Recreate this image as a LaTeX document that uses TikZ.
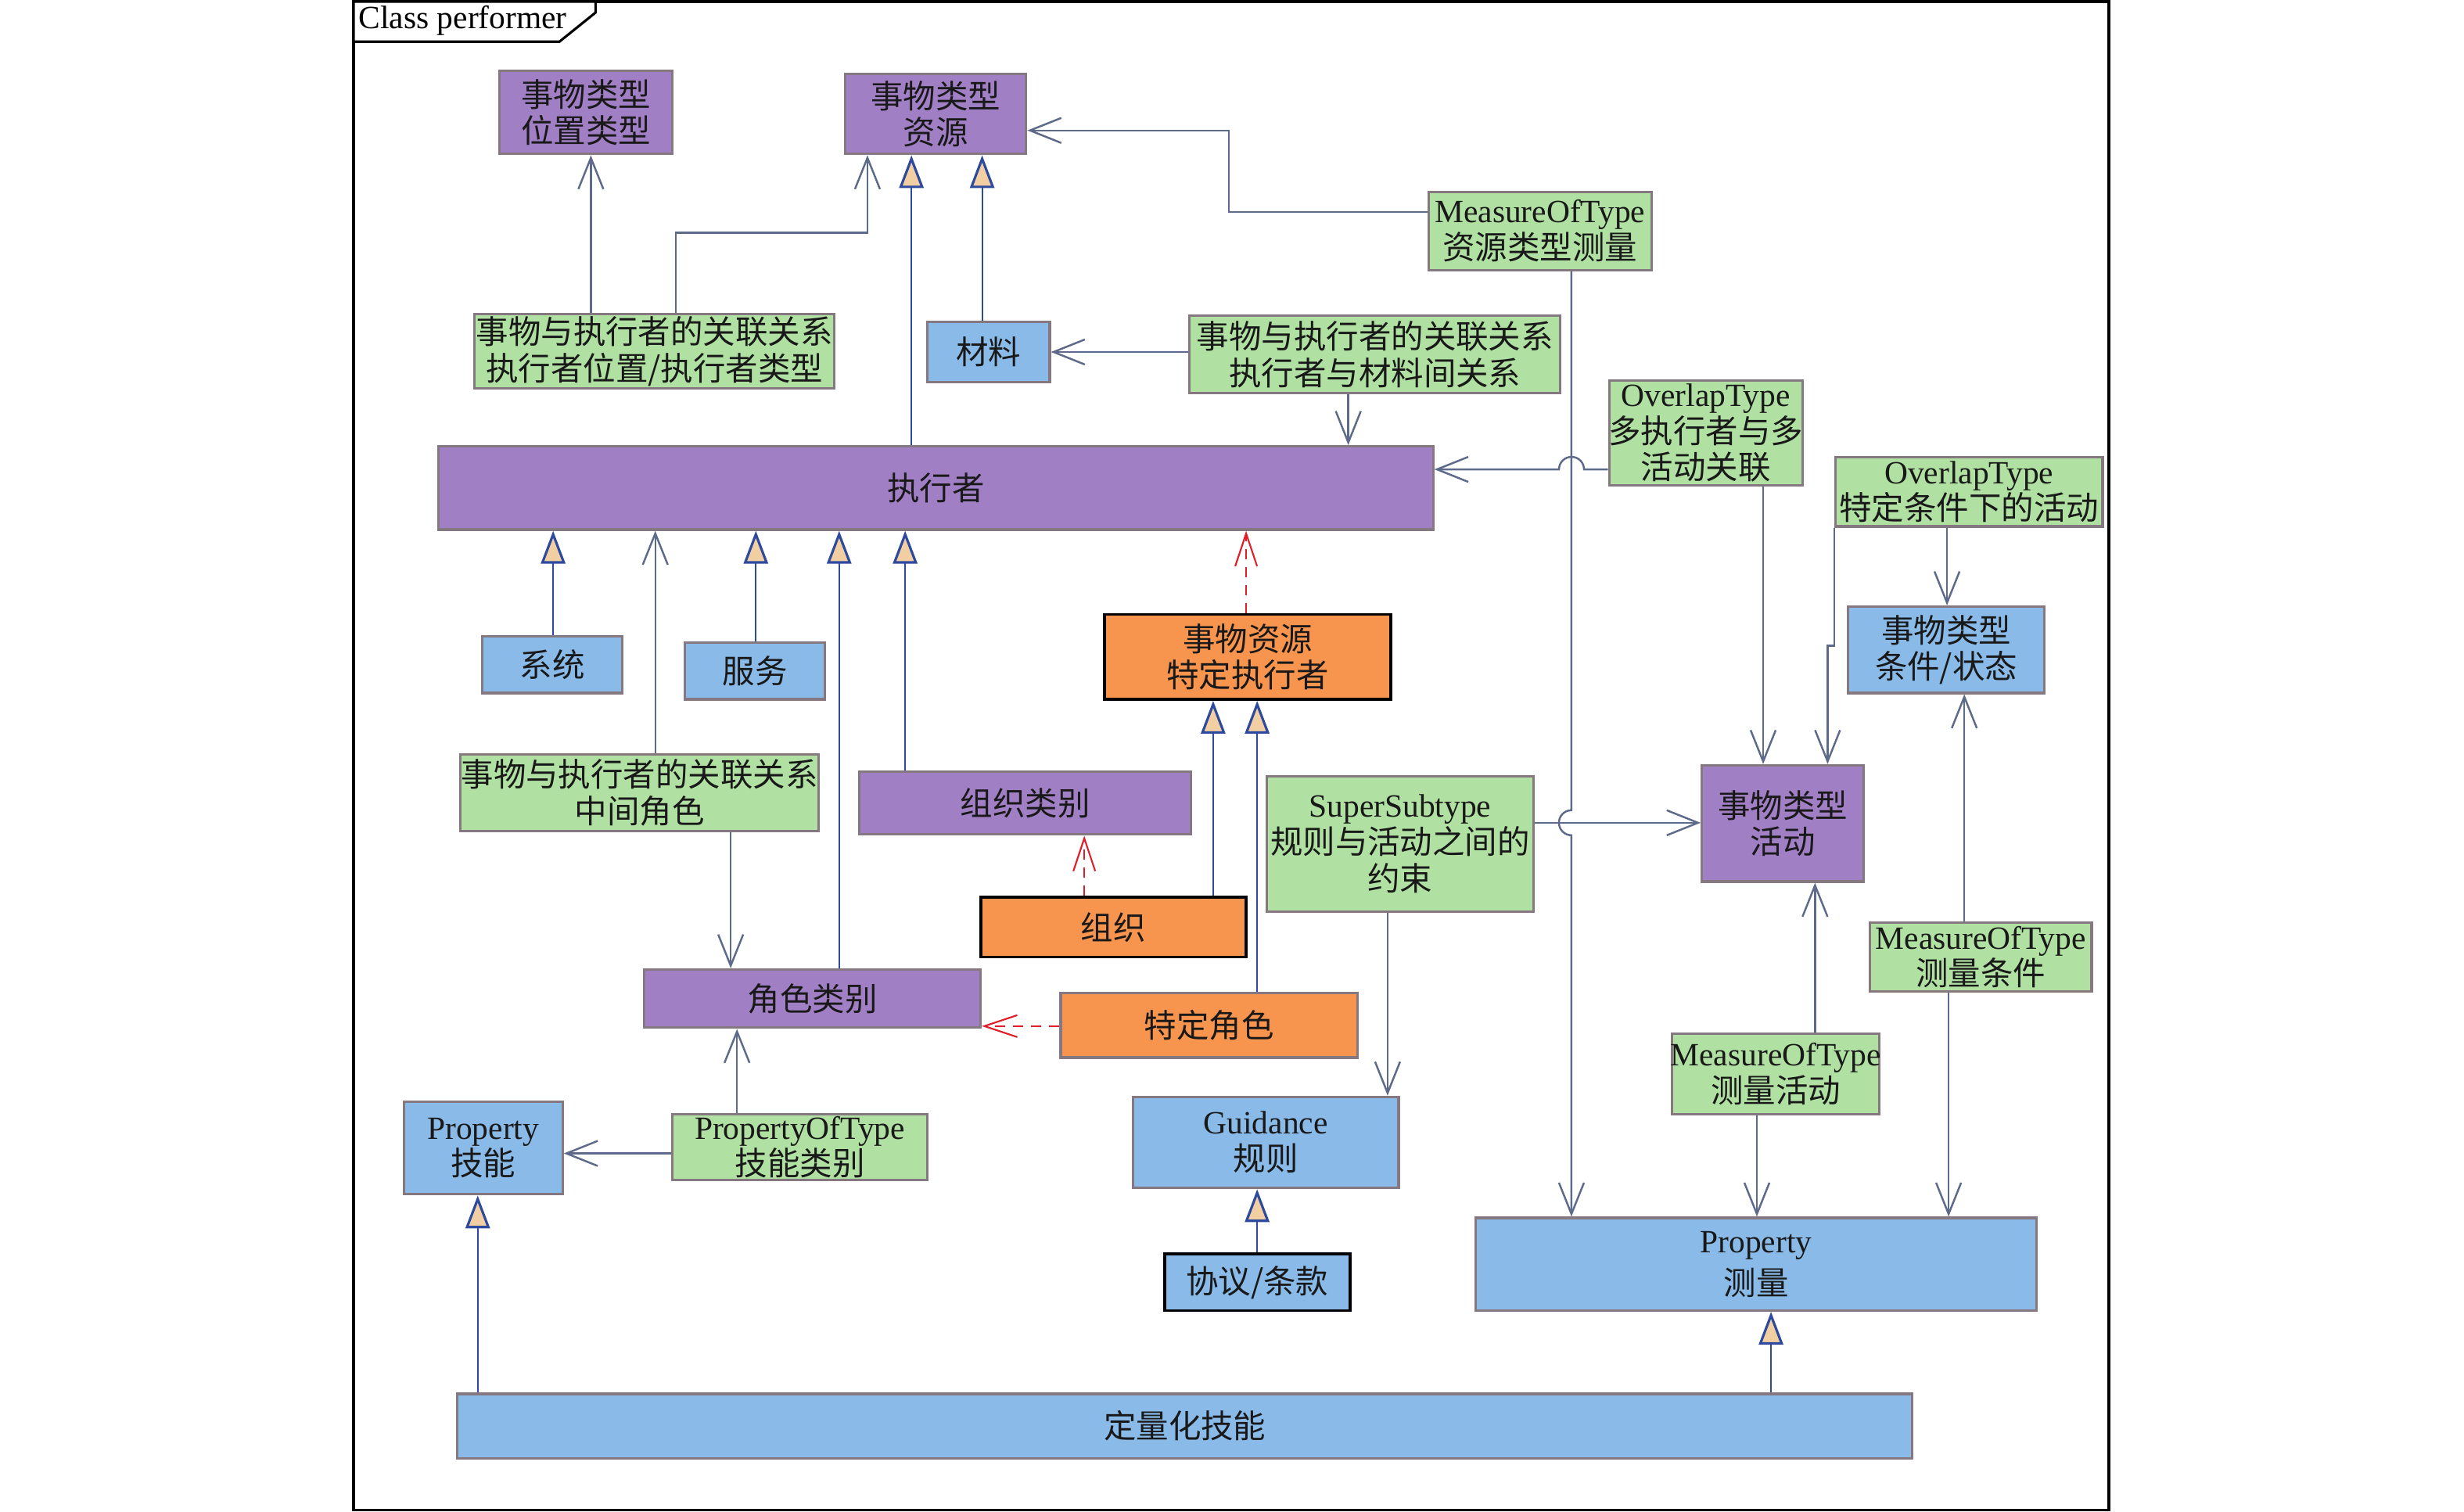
\documentclass[tikz,border=0pt]{standalone}
\usepackage{fontspec}
\setmainfont{Liberation Serif}
\newfontfamily\cjk{Noto Sans CJK SC}
\usepackage{tikz}
\usetikzlibrary{positioning,arrows.meta}

\definecolor{clsviolet}{RGB}{161,127,196}
\definecolor{relgreen}{RGB}{176,224,162}
\definecolor{propblue}{RGB}{137,186,232}
\definecolor{instorange}{RGB}{247,148,78}
\definecolor{boxgray}{RGB}{133,120,128}
\definecolor{assocgray}{RGB}{94,106,138}
\definecolor{genblue}{RGB}{46,74,158}
\definecolor{gentan}{RGB}{242,207,163}
\definecolor{depred}{RGB}{225,30,40}

\newcommand{\en}[1]{{\rmfamily #1}}

\begin{document}
\begin{tikzpicture}[x=0.2009mm, y=-0.2009mm,
    bb/.style={%
      rectangle, draw=boxgray, line width=0.9pt, inner sep=0pt,
      align=center, text=black!90,
      font=\cjk\fontsize{11.8}{13.3}\selectfont
    },
    cell/.style n args={4}{%
      at={({(#1+#3)/2},{(#2+#4)/2})},
      minimum width={(#3-#1)*0.2009mm}, minimum height={(#4-#2)*0.2009mm}
    },
    vt/.style={bb, fill=clsviolet},
    gr/.style={bb, fill=relgreen},
    bl/.style={bb, fill=propblue},
    og/.style={bb, fill=instorange},
    blk/.style={draw=black, line width=1.1pt},
    assoc/.style={draw=assocgray, line width=0.7pt,
      -{Straight Barb[length=4mm, width=3.2mm]}},
    gen/.style={draw=genblue, line width=0.6pt,
      -{Triangle[length=4.2mm, width=3.1mm, fill=gentan, line width=0.9pt]}},
    dep/.style={draw=depred, line width=0.6pt, dash pattern=on 1.3mm off 1mm,
      -{Straight Barb[length=4.2mm, width=2.8mm]}}
]
    % frame
    \path[use as bounding box, fill=white] (0,0) rectangle (1568,962);
    \draw[line width=0.9pt] (225,1) rectangle (1342,961);
    \draw[line width=0.9pt, fill=white] (225,1) -- (379,1) -- (379,8)
      -- (356,26.5) -- (225,26.5) -- cycle;
    \node[anchor=west, inner sep=0pt, font=\fontsize{11.8}{13}\selectfont]
      (title) at (228,13) {Class performer};

    % classes
    \node[vt, cell={318}{45}{428}{98}]    (loc)     {事物类型\\位置类型};
    \node[vt, cell={538}{47}{653}{98}]    (res)     {事物类型\\资源};
    \node[vt, cell={279}{284}{912}{337}]  (perf)    {执行者};
    \node[vt, cell={547}{491}{758}{531}]  (orgtype) {组织类别};
    \node[vt, cell={1083}{487}{1186}{561}] (act)    {事物类型\\活动};
    \node[vt, cell={410}{617}{624}{654}]  (role)    {角色类别};

    % relations
    \node[gr, cell={909}{122}{1051}{172}] (resmeas) {\en{MeasureOfType}\\资源类型测量};
    \node[gr, cell={302}{200}{531}{247}]  (locrel)  {事物与执行者的关联关系\\执行者位置/执行者类型};
    \node[gr, cell={757}{201}{993}{250}]  (matrel)  {事物与执行者的关联关系\\执行者与材料间关系};
    \node[gr, cell={1024}{242}{1147}{309}] (multi)  {\en{OverlapType}\\\makebox[0pt]{多执行者与多}\\活动关联};
    \node[gr, cell={1168}{291}{1338}{335}] (cond)   {\en{OverlapType}\\特定条件下的活动};
    \node[gr, cell={293}{480}{521}{529}]  (midrel)  {事物与执行者的关联关系\\中间角色};
    \node[gr, cell={806}{494}{976}{580}]  (rule)    {\en{SuperSubtype}\\规则与活动之间的\\约束};
    \node[gr, cell={1190}{587}{1331}{631}] (condmeas) {\en{MeasureOfType}\\测量条件};
    \node[gr, cell={1064}{658}{1196}{709}] (actmeas) {\makebox[0pt]{\en{MeasureOfType}}\\测量活动};
    \node[gr, cell={428}{709}{590}{751}]  (skilltype) {\en{PropertyOfType}\\技能类别};

    % properties, resources
    \node[bl, cell={590}{205}{668}{243}]  (mat)     {材料};
    \node[bl, cell={307}{405}{396}{441}]  (sys)     {系统};
    \node[bl, cell={436}{409}{525}{445}]  (svc)     {服务};
    \node[bl, cell={1176}{386}{1301}{441}] (state)  {事物类型\\条件/状态};
    \node[bl, cell={257}{701}{358}{760}]  (skill)   {\en{Property}\\技能};
    \node[bl, cell={721}{698}{890}{756}]  (guide)   {\en{Guidance}\\规则};
    \node[bl, blk, cell={741}{798}{859}{834}] (treaty) {协议/条款};
    \node[bl, cell={939}{775}{1296}{834}] (meas)    {\en{Property}\\[2pt]测量};
    \node[bl, cell={291}{887}{1217}{928}] (qskill)  {定量化技能};

    % individuals
    \node[og, blk, cell={703}{391}{885}{445}] (spec) {事物资源\\特定执行者};
    \node[og, blk, cell={624}{571}{793}{609}] (org)  {组织};
    \node[og, cell={675}{632}{864}{673}]      (prole) {特定角色};

    % associations
    \draw[assoc] (376,0 |- locrel.north) -- (376,0 |- loc.south);
    \draw[assoc] (430,0 |- locrel.north) |- (552,148) -- (552,0 |- res.south);
    \draw[assoc] (resmeas.west |- 0,135) -| (782,83) -- (res.east |- 0,83);
    \draw[assoc] (matrel.west |- 0,224) -- (mat.east |- 0,224);
    \draw[assoc] (858,0 |- matrel.south) -- (858,0 |- perf.north);
    \draw[assoc] (multi.west |- 0,298.7) -- (1008,298.7)
      arc[start angle=0, end angle=180, radius=1.6mm] -- (perf.east |- 0,298.7);
    \draw[assoc] (1000,0 |- resmeas.south) -- (1000,515.6)
      arc[start angle=90, end angle=270, radius=1.6mm] -- (1000,0 |- meas.north);
    \draw[assoc] (1122,0 |- multi.south) -- (1122,0 |- act.north);
    \draw[assoc] (cond.south west) |- (1163,411) -- (1163,0 |- act.north);
    \draw[assoc] (1239,0 |- cond.south) -- (1239,0 |- state.north);
    \draw[assoc] (1250,0 |- condmeas.north) -- (1250,0 |- state.south);
    \draw[assoc] (1240,0 |- condmeas.south) -- (1240,0 |- meas.north);
    \draw[assoc] (1155,0 |- actmeas.north) -- (1155,0 |- act.south);
    \draw[assoc] (1118,0 |- actmeas.south) -- (1118,0 |- meas.north);
    \draw[assoc] (rule.east |- 0,523.6) -- (act.west |- 0,523.6);
    \draw[assoc] (883,0 |- rule.south) -- (883,0 |- guide.north);
    \draw[assoc] (skilltype.west |- 0,734) -- (skill.east |- 0,734);
    \draw[assoc] (469,0 |- skilltype.north) -- (469,0 |- role.south);
    \draw[assoc] (417,0 |- midrel.north) -- (417,0 |- perf.south);
    \draw[assoc] (465,0 |- midrel.south) -- (465,0 |- role.north);

    % generalisations
    \path (580,0 |- perf.north)   edge[gen] (580,0 |- res.south)
          (625,0 |- mat.north)    edge[gen] (625,0 |- res.south)
          (352,0 |- sys.north)    edge[gen] (352,0 |- perf.south)
          (481,0 |- svc.north)    edge[gen] (481,0 |- perf.south)
          (534,0 |- role.north)   edge[gen] (534,0 |- perf.south)
          (576,0 |- orgtype.north) edge[gen] (576,0 |- perf.south)
          (772,0 |- org.north)    edge[gen] (772,0 |- spec.south)
          (800,0 |- prole.north)  edge[gen] (800,0 |- spec.south)
          (800,0 |- treaty.north) edge[gen] (800,0 |- guide.south)
          (304,0 |- qskill.north) edge[gen] (304,0 |- skill.south)
          (1127,0 |- qskill.north) edge[gen] (1127,0 |- meas.south);

    % dependencies
    \draw[dep] (793,0 |- spec.north) -- (793,0 |- perf.south);
    \draw[dep] (690,0 |- org.north) -- (690,0 |- orgtype.south);
    \draw[dep] (prole.west |- 0,653) -- (role.east |- 0,653);
\end{tikzpicture}
\end{document}
